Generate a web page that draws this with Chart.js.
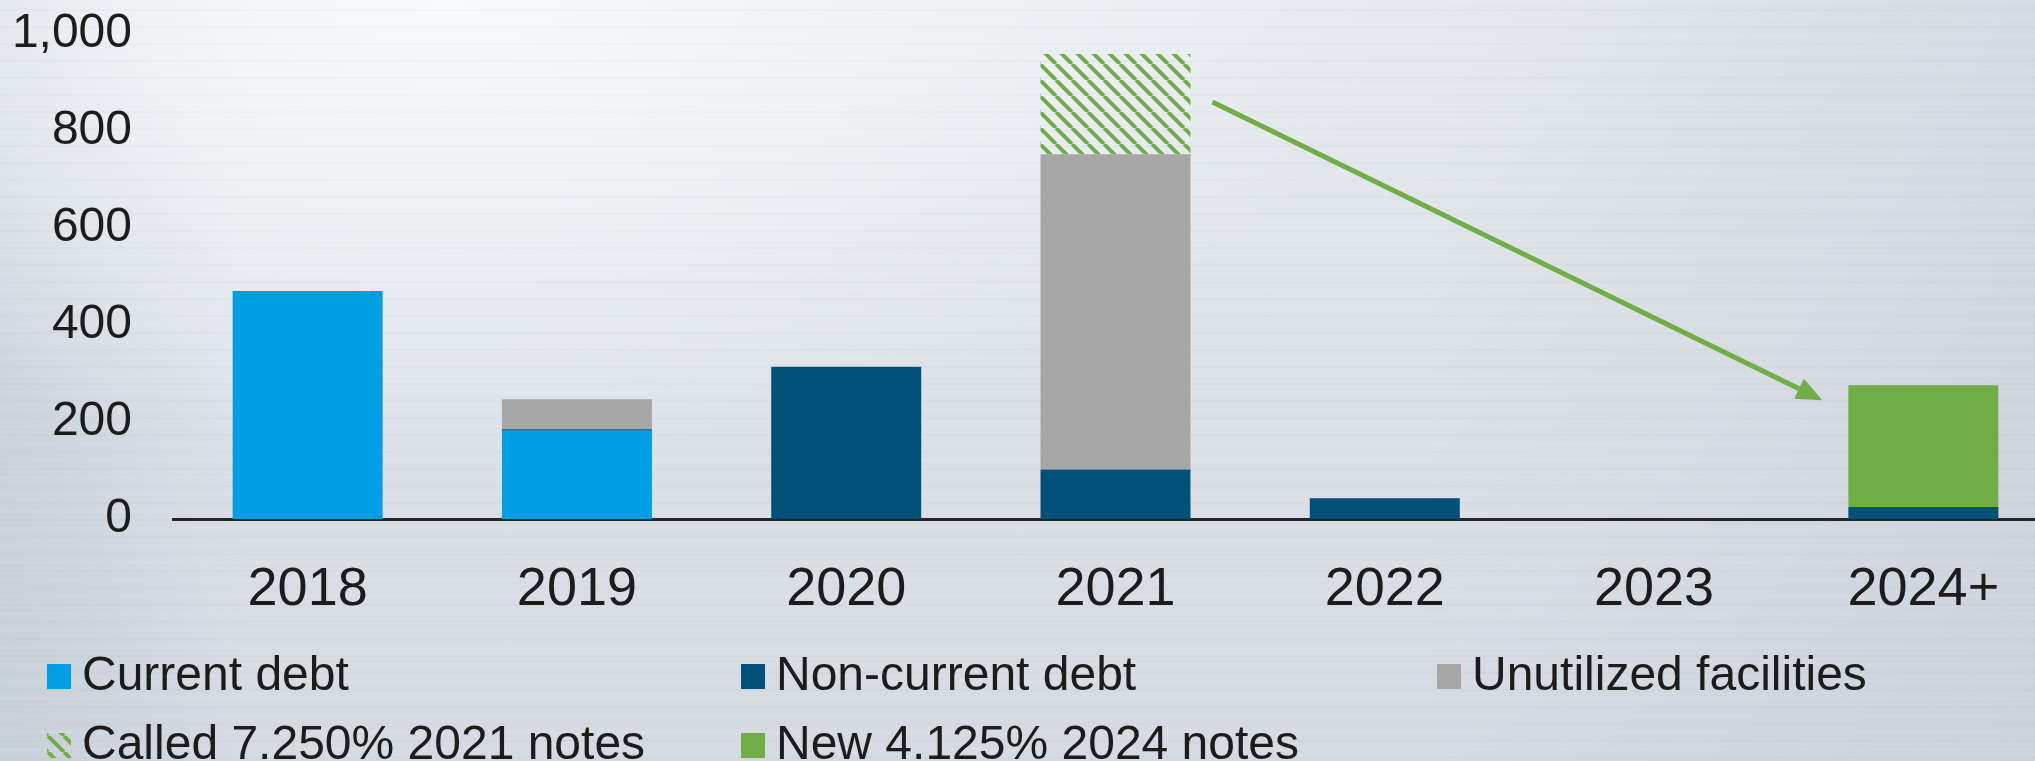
<!DOCTYPE html>
<html>
<head>
<meta charset="utf-8">
<title>Debt maturity profile</title>
<script src="https://cdn.jsdelivr.net/npm/chart.js@4.4.1/dist/chart.umd.min.js"></script>
<style>
  html, body { margin: 0; padding: 0; width: 2035px; height: 761px; overflow: hidden; }
  body {
    background:
      repeating-linear-gradient(180deg, rgba(255,255,255,0.06) 0 3px, rgba(0,0,0,0) 3px 9px, rgba(120,130,145,0.035) 9px 11px, rgba(0,0,0,0) 11px 17px),
      radial-gradient(ellipse 950px 460px at 22% 0%, rgba(248,251,253,0.95), rgba(248,251,253,0) 100%),
      linear-gradient(90deg, rgba(190,198,208,0.55) 0%, rgba(190,198,208,0) 12%, rgba(190,198,208,0) 70%, rgba(195,203,212,0.5) 100%),
      linear-gradient(180deg, #e6eaee 0%, #dde2e7 45%, #d4dae0 100%);
  }
  #wrap { position: relative; width: 2058px; height: 761px; }
</style>
</head>
<body>
<div id="wrap"><canvas id="debtChart" width="2058" height="761"></canvas></div>
<script>
  // maturity buckets and stacked amounts
  var years = ['2018', '2019', '2020', '2021', '2022', '2023', '2024+'];
  var currentDebt    = [470, 182, 0, 0, 0, 0, 0];
  var nonCurrentDebt = [0, 3, 314, 102, 43, 0, 25];
  var unutilized     = [0, 62, 0, 650, 0, 0, 0];
  var calledNotes    = [0, 0, 0, 207, 0, 0, 0];
  var newNotes       = [0, 0, 0, 0, 0, 0, 251];
  var yTicks = [0, 200, 400, 600, 800, 1000];

  // refinancing arrow: [category, offset in category widths, value]
  var arrowFrom = ['2021', 0.36, 860];
  var arrowTo   = ['2024+', -0.375, 245];

  var FONT = '"Liberation Sans", Arial, Helvetica, sans-serif';
  var TEXT = '#1c1c1c';
  var GREEN = '#70ad47';

  function hatch(color) {
    var c = document.createElement('canvas');
    c.width = c.height = 16;
    var g = c.getContext('2d');
    g.strokeStyle = color;
    g.lineWidth = 4;
    g.beginPath();
    [-16, 0, 16].forEach(function (o) { g.moveTo(o, 0); g.lineTo(o + 16, 16); });
    g.stroke();
    return g.createPattern(c, 'repeat');
  }

  var legendPlugin = {
    id: 'gridLegend',
    afterDraw: function (chart) {
      var ctx = chart.ctx;
      var cols = [47, 741, 1437];
      var rows = [676, 745];
      ctx.save();
      ctx.font = '48px ' + FONT;
      ctx.textBaseline = 'middle';
      ctx.textAlign = 'left';
      chart.data.datasets.forEach(function (ds, i) {
        var x = cols[i % 3], y = rows[Math.floor(i / 3)];
        ctx.fillStyle = ds.backgroundColor;
        ctx.fillRect(x, y - 12, 24, 25);
        ctx.fillStyle = TEXT;
        ctx.fillText(ds.label, x + 35, y + 1);
      });
      ctx.restore();
    }
  };

  var arrowPlugin = {
    id: 'refiArrow',
    afterDatasetsDraw: function (chart) {
      var xs = chart.scales.x, ys = chart.scales.y;
      var step = xs.getPixelForValue(1) - xs.getPixelForValue(0);
      function pt(p) {
        return [xs.getPixelForValue(years.indexOf(p[0])) + p[1] * step, ys.getPixelForValue(p[2])];
      }
      var a = pt(arrowFrom), b = pt(arrowTo);
      var ang = Math.atan2(b[1] - a[1], b[0] - a[0]);
      var head = 26, half = 11;
      var bx = b[0] - head * Math.cos(ang), by = b[1] - head * Math.sin(ang);
      var ctx = chart.ctx;
      ctx.save();
      ctx.strokeStyle = GREEN;
      ctx.fillStyle = GREEN;
      ctx.lineWidth = 5;
      ctx.beginPath();
      ctx.moveTo(a[0], a[1]);
      ctx.lineTo(bx, by);
      ctx.stroke();
      ctx.beginPath();
      ctx.moveTo(b[0], b[1]);
      ctx.lineTo(bx + half * Math.sin(ang), by - half * Math.cos(ang));
      ctx.lineTo(bx - half * Math.sin(ang), by + half * Math.cos(ang));
      ctx.closePath();
      ctx.fill();
      ctx.restore();
    }
  };

  new Chart(document.getElementById('debtChart'), {
    type: 'bar',
    data: {
      labels: years,
      datasets: [
        { label: 'Current debt', data: currentDebt, backgroundColor: '#009fe3' },
        { label: 'Non-current debt', data: nonCurrentDebt, backgroundColor: '#005177' },
        { label: 'Unutilized facilities', data: unutilized, backgroundColor: '#a6a6a6' },
        { label: 'Called 7.250% 2021 notes', data: calledNotes, backgroundColor: hatch(GREEN) },
        { label: 'New 4.125% 2024 notes', data: newNotes, backgroundColor: GREEN }
      ]
    },
    options: {
      responsive: false,
      animation: false,
      events: [],
      datasets: { bar: { categoryPercentage: 1, barPercentage: 0.557, borderWidth: 0 } },
      layout: { padding: { top: 34, left: 0, right: 0, bottom: 0 } },
      plugins: { legend: { display: false }, tooltip: { enabled: false } },
      scales: {
        x: {
          stacked: true,
          grid: { display: false },
          border: { display: true, color: '#262626', width: 3 },
          ticks: { color: TEXT, font: { family: FONT, size: 54 }, padding: 31, maxRotation: 0 },
          afterFit: function (s) { s.height = 242; }
        },
        y: {
          stacked: true,
          min: yTicks[0],
          max: yTicks[yTicks.length - 1],
          grid: { display: false },
          border: { display: false },
          afterBuildTicks: function (s) { s.ticks = yTicks.map(function (v) { return { value: v }; }); },
          ticks: {
            color: TEXT,
            font: { family: FONT, size: 48 },
            padding: 33,
            callback: function (v) { return Number(v).toLocaleString('en-US'); }
          },
          afterFit: function (s) {
            s.width = 173;
            // top/bottom label overhang is covered by the layout padding
            s.paddingTop = 0;
            s.paddingBottom = 0;
          }
        }
      }
    },
    plugins: [arrowPlugin, legendPlugin]
  });
</script>
</body>
</html>
